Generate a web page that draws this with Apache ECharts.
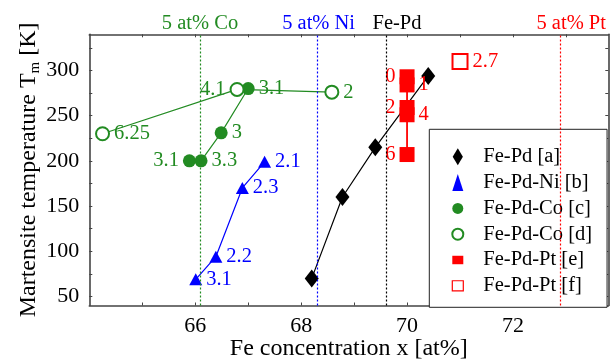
<!DOCTYPE html>
<html>
<head>
<meta charset="utf-8">
<script src="https://cdn.jsdelivr.net/npm/echarts@6/dist/echarts.min.js"></script>
<style>
  html, body { margin: 0; padding: 0; background: #fff; }
  #chart { width: 613px; height: 360px; }
</style>
</head>
<body>
<div id="chart"></div>
<script>
// values: Fe concentration (at%) and Tm (K)
const fePdX = [68.2, 68.78, 69.40, 70.40];
const fePdT = [70, 160, 215, 294];

const niX = [66.01, 66.39, 66.89, 67.31];
const niT = [69, 94, 170, 199];
const niLabels = ['3.1', '2.2', '2.3', '2.1'];

const coFilledX = [65.89, 66.11, 66.49, 67.0];
const coFilledT = [200, 200, 231, 280];
const coFilledLabels = ['3.1', '3.3', '3', '3.1'];
const coFilledPos = ['left', 'right', 'right', 'right'];

const coOpenX = [64.25, 66.79, 68.58];
const coOpenT = [230, 279, 276];
const coOpenLabels = ['6.25', '4.1', '2'];
const coOpenPos = ['right', 'left', 'right'];

const ptFilledX = [70, 70, 70, 70, 70];
const ptFilledT = [293, 284, 259, 251, 207];
const ptFilledLabels = ['0', '1', '2', '4', '6'];
const ptFilledPos = ['left', 'right', 'left', 'right', 'left'];

const ptOpenX = [71.0];
const ptOpenT = [310];
const ptOpenLabels = ['2.7'];

// dotted reference lines (5 at% Co, 5 at% Ni, Fe-Pd, 5 at% Pt) and their captions
const refLineX = [66.1, 68.3, 69.6, 72.9];
const refLineColors = ['#228b22', '#0000ff', '#000000', '#ff0000'];
const refLabelX = [66.09, 68.33, 69.81, 73.1];
const refLabels = ['5 at% Co', '5 at% Ni', 'Fe-Pd', '5 at% Pt'];

// ticks
const xTicks = [65, 66, 67, 68, 69, 70, 71, 72, 73];
const xTickLabels = [66, 68, 70, 72];
const yTicks = [50, 75, 100, 125, 150, 175, 200, 225, 250, 275, 300, 325];
const yTickLabels = [50, 100, 150, 200, 250, 300];

const FONT = '"Liberation Serif", "Times New Roman", serif';
const GREEN = '#228b22', BLUE = '#0000ff', RED = '#ff0000';

function pts(xs, ts) {
  return xs.map((x, i) => [x, ts[i]]);
}
function labeled(xs, ts, labels, pos, color) {
  return xs.map((x, i) => ({
    value: [x, ts[i]],
    label: {
      show: true,
      formatter: labels[i],
      position: pos ? pos[i] : 'right',
      distance: 4,
      color: color,
      fontSize: 20.5,
      fontFamily: FONT
    }
  }));
}
function lineSeries(xs, ts, color, width) {
  return {
    type: 'line', data: pts(xs, ts), symbol: 'none', silent: true, z: 2,
    lineStyle: { color: color, width: width || 1.2 }
  };
}

const myChart = echarts.init(document.getElementById('chart'), null, { renderer: 'canvas' });

const option = {
  animation: false,
  backgroundColor: '#fff',
  textStyle: { fontFamily: FONT },
  grid: { left: 89.3, right: 4.7, top: 34.3, bottom: 54.5, containLabel: false, outerBoundsMode: 'none' },
  xAxis: [{
    type: 'value', position: 'bottom', min: 64, max: 73.8,
    name: 'Fe concentration x [at%]', nameLocation: 'middle', nameGap: 31, nameMoveOverlap: false,
    nameTextStyle: { color: '#000', fontSize: 24, fontFamily: FONT },
    axisLine: { show: true, onZero: false, lineStyle: { color: '#444', width: 1.6 } },
    axisTick: { show: true, inside: true, length: 3, customValues: xTicks, lineStyle: { color: '#444' } },
    axisLabel: { customValues: xTickLabels, color: '#000', fontSize: 22, fontFamily: FONT, margin: 10 },
    splitLine: { show: false }
  }, {
    type: 'value', position: 'top', min: 64, max: 73.8,
    axisLine: { show: true, onZero: false, lineStyle: { color: '#444', width: 1.6 } },
    axisTick: { show: true, inside: true, length: 3, customValues: xTicks, lineStyle: { color: '#444' } },
    axisLabel: {
      customValues: refLabelX, margin: 0,
      formatter: function (v) {
        let k = 0;
        refLabelX.forEach((x, i) => { if (Math.abs(x - v) < Math.abs(refLabelX[k] - v)) k = i; });
        return '{c' + k + '|' + refLabels[k] + '}';
      },
      rich: {
        c0: { color: refLineColors[0], fontSize: 20.5, fontFamily: FONT },
        c1: { color: refLineColors[1], fontSize: 20.5, fontFamily: FONT },
        c2: { color: refLineColors[2], fontSize: 20.5, fontFamily: FONT },
        c3: { color: refLineColors[3], fontSize: 20.5, fontFamily: FONT }
      }
    },
    splitLine: { show: false }
  }],
  yAxis: [{
    type: 'value', position: 'left', min: 40, max: 340,
    name: '{n|Martensite temperature T}{s|m}{n| [K]}', nameLocation: 'middle', nameGap: 47, nameRotate: 90,
    nameMoveOverlap: false,
    nameTextStyle: {
      color: '#000', fontFamily: FONT,
      rich: {
        n: { fontSize: 24, lineHeight: 28, fontFamily: FONT, color: '#000' },
        s: { fontSize: 15, lineHeight: 14, verticalAlign: 'bottom', fontFamily: FONT, color: '#000' }
      }
    },
    axisLine: { show: true, onZero: false, lineStyle: { color: '#444', width: 1.6 } },
    axisTick: { show: true, inside: true, length: 3, customValues: yTicks, lineStyle: { color: '#444' } },
    axisLabel: { customValues: yTickLabels, color: '#000', fontSize: 22, fontFamily: FONT, margin: 10 },
    splitLine: { show: false }
  }, {
    type: 'value', position: 'right', min: 40, max: 340,
    axisLine: { show: true, onZero: false, lineStyle: { color: '#444', width: 1.6 } },
    axisTick: { show: true, inside: true, length: 3, customValues: yTicks, lineStyle: { color: '#444' } },
    axisLabel: { show: false },
    splitLine: { show: false }
  }],
  legend: {
    orient: 'vertical', left: 429.3, top: 129.3,
    padding: [17, 15, 11, 22],
    itemWidth: 11, itemHeight: 17, itemGap: 4.8,
    backgroundColor: '#fff', borderColor: '#222', borderWidth: 1,
    textStyle: { fontSize: 20.5, fontFamily: FONT, color: '#000', padding: [0, 0, 0, 15], lineHeight: 17 },
    data: [
      { name: 'Fe-Pd [a]', icon: 'path://M3,0L6,5L3,10L0,5Z' },
      { name: 'Fe-Pd-Ni [b]' },
      { name: 'Fe-Pd-Co [c]' },
      { name: 'Fe-Pd-Co [d]' },
      { name: 'Fe-Pd-Pt [e]', icon: 'path://M0,0H13V10H0Z' },
      { name: 'Fe-Pd-Pt [f]', icon: 'path://M0,0H12V11H0Z', itemStyle: { color: '#fff', borderColor: RED, borderWidth: 1.2 } }
    ],
    selectedMode: false
  },
  series: [
    {
      type: 'line', data: [], silent: true, z: 1,
      markLine: {
        silent: true, symbol: ['none', 'none'], label: { show: false },
        data: refLineX.map((x, i) => ({ xAxis: x, lineStyle: { color: refLineColors[i], type: [2, 2], width: 1.2 } }))
      }
    },
    lineSeries(fePdX, fePdT, '#000'),
    lineSeries(niX, niT, BLUE),
    lineSeries(coFilledX, coFilledT, GREEN),
    lineSeries(coOpenX, coOpenT, GREEN),
    lineSeries(ptFilledX, ptFilledT, RED, 1.8),
    {
      name: 'Fe-Pd [a]', type: 'scatter', z: 3, symbol: 'diamond', symbolSize: [14, 18],
      itemStyle: { color: '#000', opacity: 1 }, data: pts(fePdX, fePdT)
    },
    {
      name: 'Fe-Pd-Ni [b]', type: 'scatter', z: 3, symbol: 'triangle', symbolSize: [13, 12],
      itemStyle: { color: BLUE, opacity: 1 }, data: labeled(niX, niT, niLabels, null, BLUE)
    },
    {
      name: 'Fe-Pd-Co [c]', type: 'scatter', z: 3, symbol: 'circle', symbolSize: 13,
      itemStyle: { color: GREEN, opacity: 1 }, data: labeled(coFilledX, coFilledT, coFilledLabels, coFilledPos, GREEN)
    },
    {
      name: 'Fe-Pd-Co [d]', type: 'scatter', z: 3, symbol: 'emptyCircle', symbolSize: 13,
      itemStyle: { color: GREEN, borderWidth: 1.2, opacity: 1 }, data: labeled(coOpenX, coOpenT, coOpenLabels, coOpenPos, GREEN)
    },
    {
      name: 'Fe-Pd-Pt [e]', type: 'scatter', z: 4, symbol: 'rect', symbolSize: 15,
      itemStyle: { color: RED, opacity: 1 }, data: labeled(ptFilledX, ptFilledT, ptFilledLabels, ptFilledPos, RED)
    },
    {
      name: 'Fe-Pd-Pt [f]', type: 'scatter', z: 4, symbol: 'emptyRect', symbolSize: 15,
      itemStyle: { color: RED, borderWidth: 1.2, opacity: 1 }, data: labeled(ptOpenX, ptOpenT, ptOpenLabels, null, RED)
    }
  ]
};

myChart.setOption(option);
</script>
</body>
</html>
